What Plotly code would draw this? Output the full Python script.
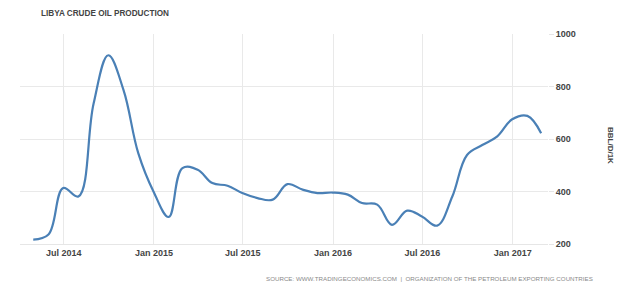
import pandas as pd
import plotly.graph_objects as go

# Monthly observations (plotted at month end), thousand barrels per day
dates = pd.date_range("2014-04-30", "2017-02-28", freq="ME").strftime("%Y-%m-%d").tolist()
production = [217, 236, 413, 381, 735, 919, 786, 546, 400,
              303, 489, 483, 432, 422, 394, 375, 369, 428, 407, 394, 396,
              388, 356, 350, 273, 327, 305, 270, 381, 539, 577, 609, 675,
              688, 622]
y_ticks = [200, 400, 600, 800, 1000]

title_text = "LIBYA CRUDE OIL PRODUCTION"
unit_text = "BBL/D/1K"
source_text = "SOURCE: WWW.TRADINGECONOMICS.COM  |  ORGANIZATION OF THE PETROLEUM EXPORTING COUNTRIES"

W, H = 640, 282
L, R, T, B = 20, 92, 33.5, 37.5
pw, ph = W - L - R, H - T - B

def px(x):
    return (x - L) / pw

def py(y):
    return (H - B - y) / ph

fig = go.Figure()
fig.add_trace(go.Scatter(
    x=dates, y=production, mode="lines",
    line=dict(color="#4a80b6", width=2.2, shape="spline", smoothing=1.1),
    hoverinfo="x+y", showlegend=False,
))

tick_font = dict(family="Liberation Sans, Arial, sans-serif", size=9, color="#444444", weight="bold")

fig.update_layout(
    width=W, height=H,
    margin=dict(l=L, r=R, t=T, b=B, pad=0),
    paper_bgcolor="white", plot_bgcolor="white",
    xaxis=dict(
        range=["2014-04-03", "2017-03-14"],
        tick0="2014-07-01", dtick="M6", tickformat="%b %Y",
        showgrid=True, gridcolor="#e9e9e9", gridwidth=1,
        zeroline=False, showline=True, linecolor="#e6e6e6", linewidth=1,
        ticks="", tickfont=tick_font,
    ),
    yaxis=dict(
        range=[200, 1000], tickvals=y_ticks, side="right",
        showgrid=True, gridcolor="#e9e9e9", gridwidth=1,
        zeroline=False, showline=False,
        ticks="outside", ticklen=5, tickcolor="#e6e6e6",
        tickfont=tick_font,
    ),
    annotations=[
        dict(text=title_text, xref="paper", yref="paper", x=px(39), y=py(12.7),
             xanchor="left", yanchor="middle", showarrow=False,
             font=dict(family="Liberation Sans, Arial, sans-serif", size=8.2, color="#444444", weight="bold")),
        dict(text=unit_text, xref="paper", yref="paper", x=px(610), y=py(145),
             xanchor="center", yanchor="middle", showarrow=False, textangle=90,
             font=dict(family="Liberation Sans, Arial, sans-serif", size=8, color="#444444", weight="bold")),
        dict(text=source_text, xref="paper", yref="paper", x=px(595), y=py(279.5),
             xanchor="right", yanchor="middle", showarrow=False,
             font=dict(family="Liberation Sans, Arial, sans-serif", size=6.2, color="#8a8a8a")),
    ],
)

fig.write_html("out.html")
